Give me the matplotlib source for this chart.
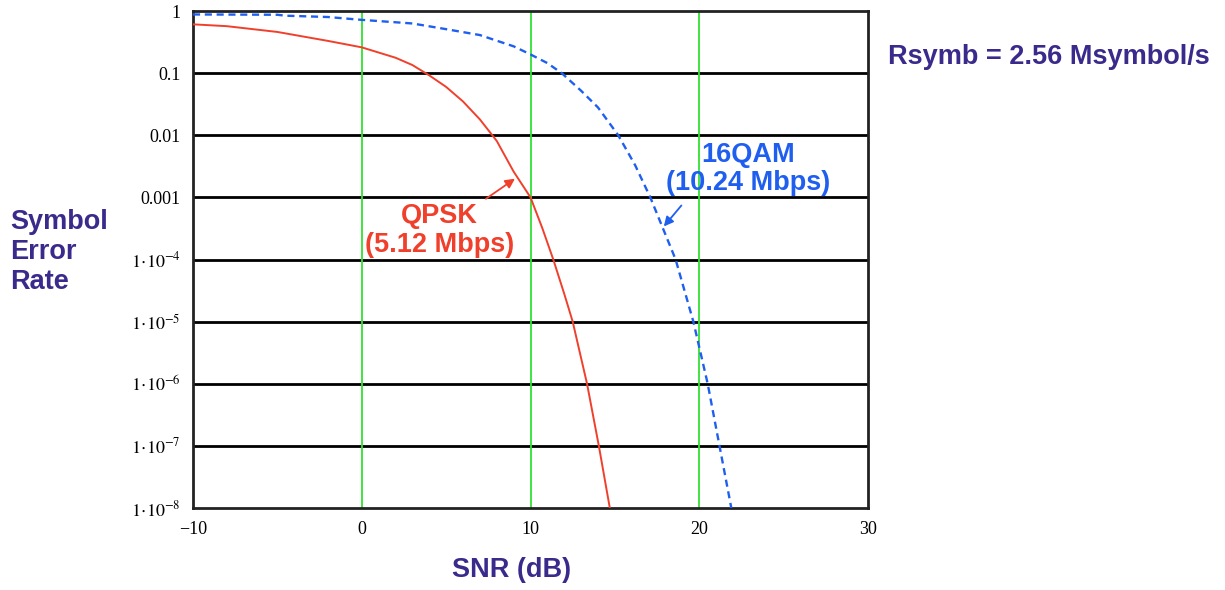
import matplotlib
matplotlib.use("Agg")
import matplotlib.pyplot as plt

# ---- data ----
snr_qpsk = [-10, -8, -5, -2, 0, 2, 3, 4, 5, 6, 7, 8, 9, 10, 10.7, 11.35, 12.0, 12.5, 13.35, 14.05, 14.7]
ser_qpsk = [0.61, 0.57, 0.46, 0.33, 0.26, 0.177, 0.135, 0.092, 0.06, 0.035, 0.018, 0.0081, 0.0026,
            1e-3, 3.2e-4, 1e-4, 2.8e-5, 1e-5, 1e-6, 1e-7, 1e-8]

snr_16qam = [-10, -5, -4.5, -2, 0, 3, 5, 7, 9, 10, 11, 11.85, 13, 14, 15.2, 16.2, 17.1, 18.6, 19.65, 20.5, 21.2, 21.9]
ser_16qam = [0.88, 0.87, 0.84, 0.80, 0.72, 0.63, 0.51, 0.41, 0.27, 0.20, 0.145, 0.1, 0.052, 0.028,
             0.01, 0.0033, 1e-3, 1e-4, 1e-5, 1e-6, 1e-7, 1e-8]

x_ticks = [-10, 0, 10, 20, 30]
x_tick_labels = ["\u221210", "0", "10", "20", "30"]
y_ticks = [1, 0.1, 0.01, 0.001, 1e-4, 1e-5, 1e-6, 1e-7, 1e-8]
y_tick_labels = ["1", "0.1", "0.01", "0.001", r"$1\!\cdot\!10^{-4}$", r"$1\!\cdot\!10^{-5}$",
                 r"$1\!\cdot\!10^{-6}$", r"$1\!\cdot\!10^{-7}$", r"$1\!\cdot\!10^{-8}$"]
v_grid = [0, 10, 20]

PURPLE = "#3a2a8c"
RED = "#f0402c"
BLUE = "#1f5ff0"

plt.rcParams["mathtext.fontset"] = "stix"

fig = plt.figure(figsize=(12.25, 5.9), dpi=100)
ax = fig.add_axes([193 / 1225, 1 - 508 / 590, (868 - 193) / 1225, (508 - 11) / 590])
ax.set_yscale("log")
ax.set_xlim(-10, 30)
ax.set_ylim(1e-8, 1)

for yv in y_ticks[1:-1]:
    ax.axhline(yv, color="black", lw=2.0, zorder=1)
for xv in v_grid:
    ax.axvline(xv, color="#33e033", lw=1.3, zorder=1)

ax.plot(snr_qpsk, ser_qpsk, color=RED, lw=1.4, zorder=3)
ax.plot(snr_16qam, ser_16qam, color=BLUE, lw=1.7, ls=(0, (3, 2)), zorder=3)

ax.set_xticks(x_ticks)
ax.set_xticklabels(x_tick_labels, family="Liberation Serif", fontsize=13)
ax.set_yticks(y_ticks)
ax.set_yticklabels(y_tick_labels, family="Liberation Serif", fontsize=13)
ax.yaxis.set_minor_locator(matplotlib.ticker.NullLocator())
ax.tick_params(axis="both", length=0, pad=9)
for s in ax.spines.values():
    s.set_linewidth(2.0)
    s.set_color("#222222")

FS = 19.5
# texts
fig.text(10 / 1225, 1 - 252 / 590, "Symbol\nError\nRate", color=PURPLE, fontsize=FS,
         fontweight="bold", family="Liberation Sans", ha="left", va="center", linespacing=1.22)
fig.text(512 / 1225, 1 - 570 / 590, "SNR (dB)", color=PURPLE, fontsize=FS,
         fontweight="bold", family="Liberation Sans", ha="center", va="center")
fig.text(1049 / 1225, 1 - 57 / 590, "Rsymb = 2.56 Msymbol/s", color=PURPLE, fontsize=FS,
         fontweight="bold", family="Liberation Sans", ha="center", va="center")

ax.annotate("QPSK\n(5.12 Mbps)", xy=(9.08, 2.0e-3), xytext=(4.6, 2.95e-4),
            color=RED, fontsize=FS, fontweight="bold", family="Liberation Sans",
            ha="center", va="center", linespacing=1.12,
            arrowprops=dict(arrowstyle="-|>", color=RED, lw=1.3, mutation_scale=14,
                            shrinkA=2, shrinkB=0, relpos=(0.77, 1.0)))
ax.annotate("16QAM\n(10.24 Mbps)", xy=(17.9, 3.4e-4), xytext=(22.9, 2.85e-3),
            color=BLUE, fontsize=FS, fontweight="bold", family="Liberation Sans",
            ha="center", va="center", linespacing=1.12,
            arrowprops=dict(arrowstyle="-|>", color=BLUE, lw=1.3, mutation_scale=14,
                            shrinkA=6, shrinkB=0, relpos=(0.14, 0.0)))

fig.savefig("out.png", dpi=100)
